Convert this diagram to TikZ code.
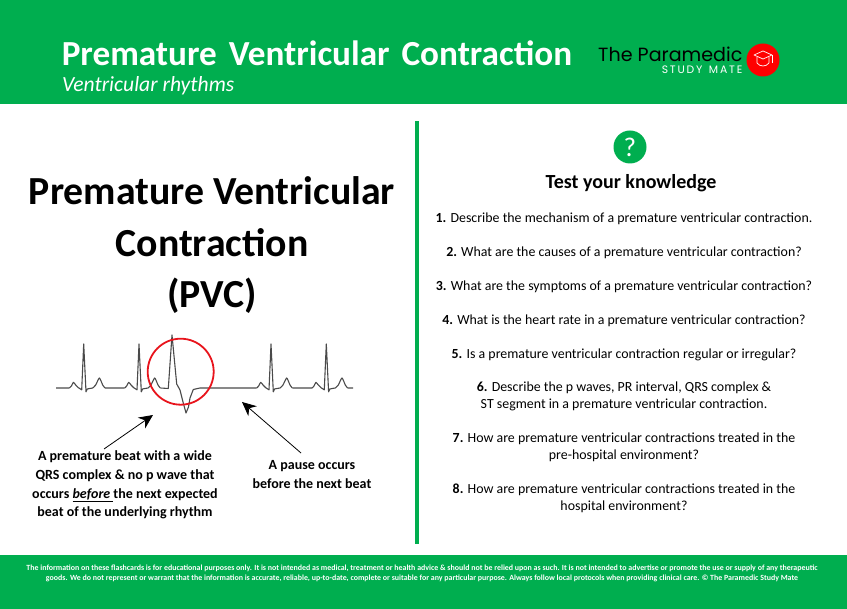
\documentclass[tikz,border=0pt]{standalone}
\usepackage{fontspec}
\setmainfont{Carlito}
\newfontfamily\logofont{Poppins}
\usetikzlibrary{arrows.meta}
\definecolor{cardGreen}{HTML}{00AE4F}
\definecolor{ecgGrey}{HTML}{4A4A4A}
\definecolor{pvcRed}{HTML}{E8141C}
\newcommand{\px}[1]{\fontsize{#1}{#1}\selectfont}

\begin{document}
\begin{tikzpicture}
[x=1pt,y=-1pt,
  bandDecorate/.style={fill=cardGreen,draw=none},%
  ecgDecorate/.style={ecgGrey,line width=1.1pt,line join=round},%
  arrowDecorate/.style={-{Stealth[length=14pt,width=13pt]},line width=0.8pt},%
  questionDecorate/.style={align=center,font=\px{13.9},inner sep=0pt},%
  noteDecorate/.style={align=center,font=\bfseries\px{14},inner sep=0pt}]
\useasboundingbox (0,0) rectangle (847,609);
%% bands and divider
\fill[bandDecorate] (0,0) rectangle (847,104);
\fill[bandDecorate] (0,555) rectangle (847,609);
\fill[bandDecorate] (415,121) rectangle (419,544);
%% header
\node (headerTitle) at (317,53) [text=white,inner sep=0pt,font=\bfseries\px{35.2}] {Premature\hspace{4pt} Ventricular\hspace{4pt} Contraction};
\node (headerSub) at (62,85.5) [anchor=west,text=white,inner sep=0pt,font=\itshape\px{21.6}] {Ventricular rhythms};
%% logo
\node (logoName) at (598,54) [anchor=west,inner sep=0pt,font=\logofont\px{19.1}] {The Paramedic};
\node (logoSub) at (742.5,70) [anchor=east,text=white,inner sep=0pt,font=\logofont\px{10.8}] {S\,T\,U\,D\,Y\, \,M\,A\,T\,E};
\node (logoDisc) at (763,60) [shape=circle,fill=red,minimum size=33pt,inner sep=0pt] {};
\draw[white,line width=0.7pt,line join=round] (754,55) -- (763,51) -- (772,55) -- (763,59) -- cycle;
\draw[white,line width=0.7pt] (757,57) -- (757,63) .. controls (760,67) and (766,67) .. (769,63) -- (769,57);
\draw[white,line width=0.7pt] (772,55) -- (772,63);
%% left title
\node (titleOne) at (212,191) [inner sep=0pt,font=\bfseries\px{39.8}] {Premature Ventricular};
\node (titleTwo) at (212,243) [inner sep=0pt,font=\bfseries\px{39.8}] {Contraction};
\node (titleThree) at (212,296) [inner sep=0pt,font=\bfseries\px{39.8}] {(PVC)};
%% trace
\foreach \rpeak in {83.7,139,271,326.3}
{
  \draw[ecgDecorate,shift={(\rpeak,388)}] plot[smooth,tension=0.35] coordinates
    {(-14.3,0) (-12.3,-2) (-10.3,-5.7) (-8,-3) (-5.3,-0.3)} -- (-2,1.8) -- (0,-44) -- (2.3,3.8) -- (3.6,1)
    -- (6,0.5) -- (9,0) plot[smooth,tension=0.35] coordinates
    {(9,0) (12,-3) (15.7,-10) (19,-3) (21.3,0)};
}
\draw[ecgDecorate] (56,388) -- (69.4,388) (105,388) -- (124.7,388) (160.3,388) -- (168.3,388.5) -- (172,335)
  -- (176.7,384) -- (180,390) -- (183,402) -- (186,413) -- (188.5,407) -- (190,398) -- (193.3,389.5) -- (200,388)
  -- (256.7,388) (292.3,388) -- (312,388) (347.6,388) -- (353,388);
\node (pvcCircle) at (180.7,371.7) [shape=circle,draw=pvcRed,line width=1.8pt,minimum size=66pt,inner sep=0pt] {};
%% notes
\node (notePremature) at (125,485) [noteDecorate] {A premature beat with a wide\\[4.7pt]QRS complex \& no p wave that\\[4.7pt]occurs \underline{\textit{before} }the next expected\\[4.7pt]beat of the underlying rhythm};
\node (notePause) at (312,475) [noteDecorate] {A pause occurs\\[5pt]before the next beat};
\coordinate (tailPremature) at (104,449);
\coordinate (tipPremature) at (153,415);
\coordinate (tailPause) at (301,453);
\coordinate (tipPause) at (242,402);
\draw[arrowDecorate] (tailPremature) -- (tipPremature);
\draw[arrowDecorate] (tailPause) -- (tipPause);
%% right column
\node (helpDisc) at (630,147) [shape=circle,fill=cardGreen,minimum size=33pt,inner sep=0pt,text=white,font=\px{27}] {?};
\node (testTitle) at (631,183) [inner sep=0pt,font=\bfseries\px{20}] {Test your knowledge};
\foreach \qname/\y/\qtext in {
  qOne/218.5/{\textbf{1.} Describe the mechanism of a premature ventricular contraction.},
  qTwo/253/{\textbf{2.} What are the causes of a premature ventricular contraction?},
  qThree/286.5/{\textbf{3.} What are the symptoms of a premature ventricular contraction?},
  qFour/320.5/{\textbf{4.} What is the heart rate in a premature ventricular contraction?},
  qFive/354.5/{\textbf{5.} Is a premature ventricular contraction regular or irregular?},
  qSix/396.5/{\textbf{6.} Describe the p waves, PR interval, QRS complex \&\\[3pt]ST segment in a premature ventricular contraction.},
  qSeven/447.5/{\textbf{7.} How are premature ventricular contractions treated in the\\[3pt]pre-hospital environment?},
  qEight/498.5/{\textbf{8.} How are premature ventricular contractions treated in the\\[3pt]hospital environment?}}
{
  \node (\qname) at (624,\y) [questionDecorate] {\qtext};
}
%% footer
\node (footerText) at (422,573.5) [text=white,align=center,inner sep=0pt,font=\bfseries\px{7.9}] {The information on these flashcards is for educational purposes only. It is not intended as medical, treatment or health advice \& should not be relied upon as such. It is not intended to advertise or promote the use or supply of any therapeutic\\[2.4pt]goods. We do not represent or warrant that the information is accurate, reliable, up-to-date, complete or suitable for any particular purpose. Always follow local protocols when providing clinical care. © The Paramedic Study Mate};
\end{tikzpicture}
\end{document}
